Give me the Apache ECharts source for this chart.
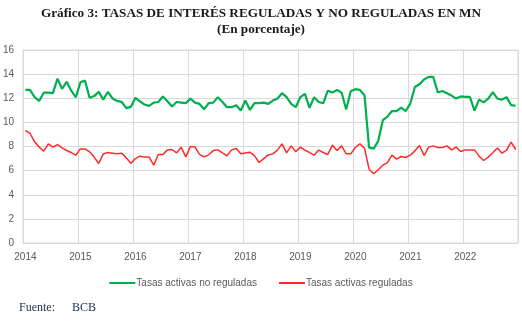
<!DOCTYPE html>
<html><head><meta charset="utf-8">
<script src="https://cdn.jsdelivr.net/npm/echarts@6/dist/echarts.min.js"></script>
<style>html,body{margin:0;padding:0;background:#fff}#c{width:522px;height:322px}</style>
</head><body><div id="c"></div>
<script>
const years = ['2014','2015','2016','2017','2018','2019','2020','2021','2022'];
const yTicks = [0,2,4,6,8,10,12,14,16];
const seriesNames = ['Tasas activas no reguladas','Tasas activas reguladas'];
const noReguladas = [12.69,12.69,12.1,11.77,12.46,12.46,12.43,13.62,12.78,13.36,12.63,12.08,
13.32,13.46,12.04,12.18,12.53,11.88,12.53,11.98,11.78,11.7,11.18,11.28,
12.04,11.75,11.48,11.37,11.64,11.69,12.14,11.75,11.31,11.69,11.64,11.59,
11.97,11.64,11.53,11.09,11.59,11.64,12.09,11.69,11.26,11.26,11.42,10.98,
11.81,11.03,11.59,11.59,11.64,11.53,11.81,11.97,12.42,12.09,11.53,11.26,
12.09,12.36,11.2,12.09,11.69,11.59,12.63,12.47,12.69,12.47,11.06,12.58,
12.75,12.69,12.25,7.9,7.83,8.45,10.18,10.48,10.94,10.94,11.22,10.94,
11.56,12.93,13.16,13.56,13.77,13.77,12.48,12.6,12.42,12.22,11.97,12.15,
12.12,12.12,10.97,11.89,11.66,11.96,12.5,11.96,11.89,12.09,11.43,11.38];
const reguladas = [9.32,9.1,8.39,7.95,7.61,8.22,7.95,8.16,7.89,7.67,7.5,7.28,
7.8,7.8,7.56,7.12,6.59,7.39,7.5,7.45,7.39,7.45,7.06,6.6,
7.0,7.2,7.12,7.12,6.45,7.34,7.34,7.72,7.75,7.47,7.93,7.14,
8.0,7.95,7.35,7.14,7.31,7.66,7.72,7.47,7.23,7.72,7.83,7.4,
7.47,7.53,7.22,6.67,6.99,7.3,7.39,7.7,8.22,7.47,8.05,7.56,
7.95,7.7,7.5,7.28,7.7,7.5,7.34,8.11,7.66,8.05,7.39,7.39,
7.92,8.22,7.86,6.12,5.74,6.07,6.45,6.67,7.28,6.95,7.17,7.09,
7.28,7.64,8.08,7.25,7.95,8.05,7.92,7.92,8.05,7.72,7.95,7.58,
7.72,7.72,7.72,7.2,6.84,7.12,7.48,7.87,7.45,7.7,8.37,7.75];

const months = [];
years.forEach(y => { for (let m = 1; m <= 12; m++) months.push(y + '-' + String(m).padStart(2,'0')); });

const chart = echarts.init(document.getElementById('c'), null, {renderer:'canvas'});
const gridColor = '#d9d9d9';
const txt = '#595959';
chart.setOption({
  animation: false,
  backgroundColor: '#fff',
  title: [
    {text: 'Gráfico 3: TASAS DE INTERÉS REGULADAS Y NO REGULADAS EN MN', left: 'center', top: 2,
     textStyle: {fontFamily: 'Liberation Serif', fontWeight: 'bold', fontSize: 13.2, color: '#1a1a1a'}},
    {text: '(En porcentaje)', left: 'center', top: 18,
     textStyle: {fontFamily: 'Liberation Serif', fontWeight: 'bold', fontSize: 13.2, color: '#1a1a1a'}}
  ],
  grid: {left: 23, right: 4, top: 50, bottom: 79, show: true, borderColor: gridColor, borderWidth: 1},
  legend: {
    bottom: 29, left: 'center', itemGap: 22, itemWidth: 26, itemHeight: 2, icon: 'rect',
    textStyle: {fontFamily: 'Liberation Sans', fontSize: 10, color: txt, padding: [0,0,0,-4]},
    data: seriesNames
  },
  xAxis: {
    type: 'category', data: months, boundaryGap: true,
    axisLine: {show: true, lineStyle: {color: gridColor}},
    axisTick: {show: false},
    axisLabel: {interval: (i) => i % 12 === 0, formatter: v => v.slice(0,4), color: txt,
                fontFamily: 'Liberation Sans', fontSize: 10, margin: 9},
    splitLine: {show: true, interval: (i) => i % 12 === 0, lineStyle: {color: gridColor, width: 1}}
  },
  yAxis: {
    type: 'value', min: 0, max: 16, interval: 2,
    axisLine: {show: false}, axisTick: {show: false},
    axisLabel: {color: txt, fontFamily: 'Liberation Sans', fontSize: 10, margin: 9},
    splitLine: {lineStyle: {color: gridColor, width: 1}}
  },
  series: [
    {name: seriesNames[0], type: 'line', data: noReguladas, symbol: 'none',
     lineStyle: {color: '#00b050', width: 2.2}, itemStyle: {color: '#00b050'}},
    {name: seriesNames[1], type: 'line', data: reguladas, symbol: 'none',
     lineStyle: {color: '#ff2b2b', width: 1.5}, itemStyle: {color: '#ff2b2b'}}
  ],
  graphic: [
    {type: 'text', left: 19, top: 302, style: {text: 'Fuente:', font: '12px "Liberation Serif"', fill: '#1f2a4d'}},
    {type: 'text', left: 72, top: 302, style: {text: 'BCB', font: '12px "Liberation Serif"', fill: '#1f2a4d'}}
  ]
});
</script></body></html>
